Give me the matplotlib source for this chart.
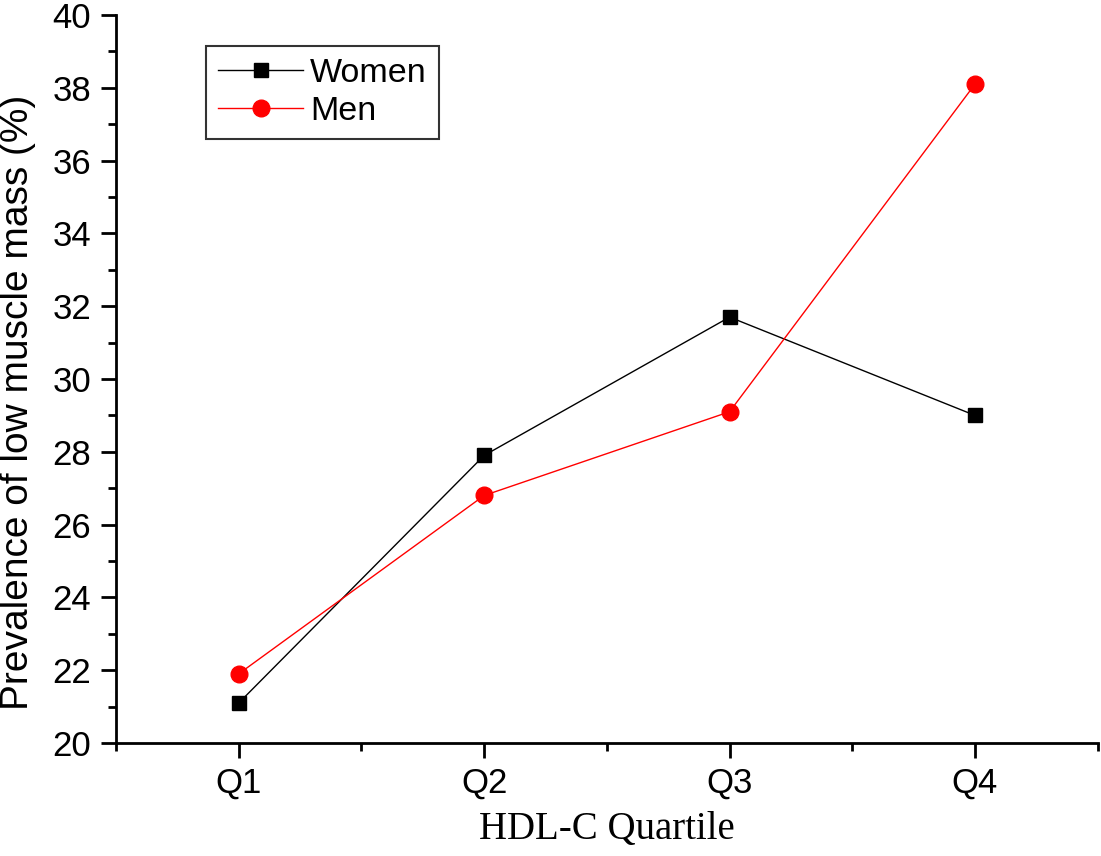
import matplotlib
matplotlib.use('Agg')
import matplotlib.pyplot as plt
from matplotlib.ticker import MultipleLocator

quartiles = ['Q1', 'Q2', 'Q3', 'Q4']
women = [21.1, 27.9, 31.7, 29.0]
men = [21.9, 26.8, 29.1, 38.1]

plt.rcParams['font.family'] = ['Liberation Sans', 'DejaVu Sans']

fig = plt.figure(figsize=(11.01, 8.56), dpi=100)
ax = fig.add_axes([0.1054, 0.132, 0.8916, 0.8505])

x = list(range(1, len(quartiles) + 1))
ax.plot(x, women, color='black', linewidth=1, marker='s', markersize=10.5,
        label='Women')
ax.plot(x, men, color='red', linewidth=1, marker='o', markersize=12,
        label='Men')

ax.set_xlim(0.5, 4.5)
ax.set_ylim(20, 40)
ax.set_xticks(x)
ax.set_xticklabels(quartiles)
ax.xaxis.set_minor_locator(plt.FixedLocator([0.5, 1.5, 2.5, 3.5, 4.5]))
ax.yaxis.set_major_locator(MultipleLocator(2))
ax.yaxis.set_minor_locator(MultipleLocator(1))

for side in ['top', 'right']:
    ax.spines[side].set_visible(False)
for side in ['left', 'bottom']:
    ax.spines[side].set_linewidth(2)

ax.tick_params(which='major', direction='out', length=11, width=2,
               labelsize=25)
ax.tick_params(which='minor', direction='out', length=5.5, width=2)
ax.tick_params(axis='x', which='major', pad=6)
ax.tick_params(axis='y', which='major', pad=7)

ax.set_ylabel('Prevalence of low muscle mass (%)', fontsize=28)
ax.yaxis.set_label_coords(-0.0815, 0.468)
ax.set_xlabel('HDL-C Quartile', fontsize=28, family='Liberation Serif',
              labelpad=8)

leg = ax.legend(loc='upper left', bbox_to_anchor=(0.092, 0.957), fontsize=24.5,
                frameon=True, fancybox=False, edgecolor='black',
                handlelength=2.5, handletextpad=0.2, borderpad=0.35,
                labelspacing=0.2, borderaxespad=0)
leg.get_frame().set_linewidth(1.5)

fig.savefig('out.png', dpi=100)
